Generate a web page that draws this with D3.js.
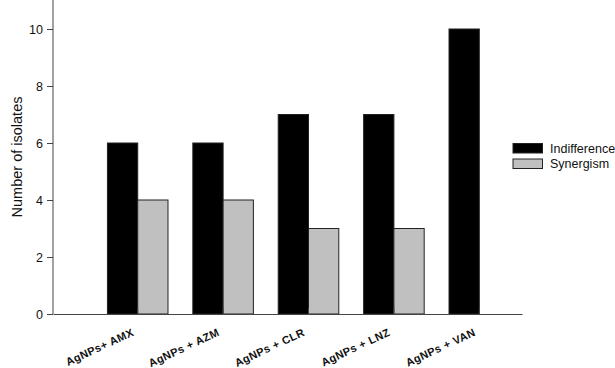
<!DOCTYPE html>
<html>
<head>
<meta charset="utf-8">
<script src="https://cdn.jsdelivr.net/npm/d3@7"></script>
<style>
  body { margin: 0; background: #fff; }
  text { font-family: Arial, "Liberation Sans", sans-serif; }
</style>
</head>
<body>
<div id="chart"></div>
<script>
// chart values
var categories = ["AgNPs+ AMX", "AgNPs + AZM", "AgNPs + CLR", "AgNPs + LNZ", "AgNPs + VAN"];
var seriesNames = ["Indifference", "Synergism"];
var indifference = [6, 6, 7, 7, 10];
var synergism = [4, 4, 3, 3, 0];
var yTicks = [0, 2, 4, 6, 8, 10];
var colors = ["#000000", "#c0c0c0"];

var width = 615, height = 368;

var svg = d3.select("#chart")
            .append("svg")
            .attr("width", width)
            .attr("height", height);

// scales
var x = d3.scaleBand()
          .domain(categories)
          .range([53, 522])
          .paddingInner(0)
          .paddingOuter(0.246)
          .align(1);

var xs = d3.scaleBand()
           .domain(seriesNames)
           .range([0, x.bandwidth()])
           .paddingInner(0)
           .paddingOuter(0.41);

var y = d3.scaleLinear()
          .domain([0, 11])
          .range([314, 0.5]);

// bars
var rows = categories.map(function(c, i) {
  return { cat: c, values: [indifference[i], synergism[i]] };
});

var groups = svg.selectAll("g.group")
                .data(rows)
                .enter()
                .append("g")
                .attr("class", "group")
                .attr("transform", d => `translate(${x(d.cat)},0)`);

groups.selectAll("rect")
      .data(d => d.values.map((v, j) => ({ name: seriesNames[j], value: v, color: colors[j] })))
      .enter()
      .filter(d => d.value > 0)
      .append("rect")
      .attr("x", d => xs(d.name))
      .attr("y", d => y(d.value))
      .attr("width", xs.bandwidth())
      .attr("height", d => y(0) - y(d.value))
      .attr("fill", d => d.color)
      .attr("stroke", "#222")
      .attr("stroke-width", 1);

// y axis
var yAxis = d3.axisLeft(y)
              .tickValues(yTicks)
              .tickSize(6)
              .tickPadding(4);

var yg = svg.append("g")
            .attr("transform", "translate(53,0)")
            .call(yAxis);
yg.select(".domain").attr("stroke", "#444").attr("d", "M0,314V0");
yg.selectAll(".tick line").attr("stroke", "#444");
yg.selectAll(".tick text").attr("font-size", 12.5).attr("fill", "#111");

// x axis
var xAxis = d3.axisBottom(x).tickSize(6).tickSizeOuter(0).tickFormat("");
var xg = svg.append("g")
            .attr("transform", "translate(0,314)")
            .call(xAxis);
xg.select(".domain").attr("stroke", "#444");
xg.selectAll(".tick line").attr("stroke", "#444").attr("y1", -6).attr("y2", 0);

// x labels, rotated
svg.selectAll("text.xlab")
   .data(categories)
   .enter()
   .append("text")
   .attr("class", "xlab")
   .attr("transform", d => `translate(${x(d) + x.bandwidth() / 2 - 3},${335}) rotate(-25)`)
   .attr("text-anchor", "end")
   .attr("font-size", 11)
   .attr("letter-spacing", 0.4)
   .attr("font-weight", "bold")
   .attr("fill", "#111")
   .text(d => d);

// y title
svg.append("text")
   .attr("transform", "translate(22,157) rotate(-90)")
   .attr("text-anchor", "middle")
   .attr("font-size", 14.5)
   .attr("fill", "#111")
   .text("Number of isolates");

// legend
var legend = svg.selectAll("g.legend")
                .data(seriesNames)
                .enter()
                .append("g")
                .attr("class", "legend")
                .attr("transform", (d, i) => `translate(513,${143.5 + i * 15.5})`);

legend.append("rect")
      .attr("width", 29.5)
      .attr("height", 9.5)
      .attr("fill", (d, i) => colors[i])
      .attr("stroke", "#222");

legend.append("text")
      .attr("x", 37)
      .attr("y", 5)
      .attr("dy", "0.35em")
      .attr("font-size", 12.5)
      .attr("fill", "#111")
      .text(d => d);
</script>
</body>
</html>
